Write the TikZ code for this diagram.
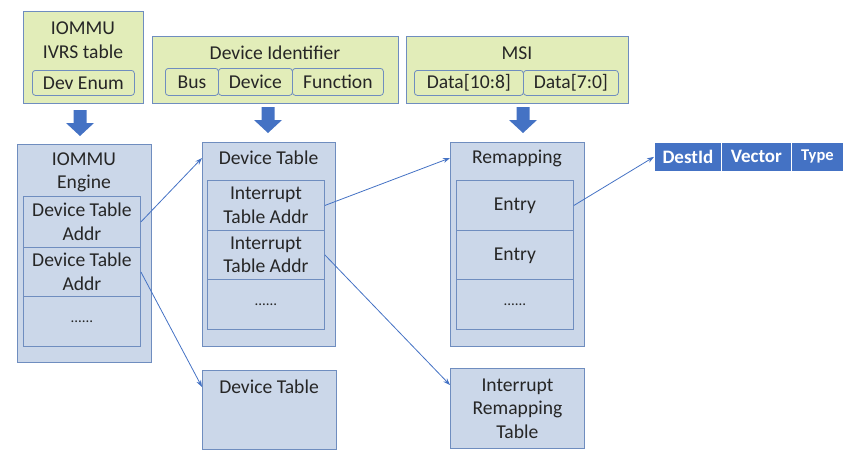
\documentclass[tikz,border=0pt]{standalone}
\usepackage{fontspec}
\setmainfont{Carlito}
\usepackage{xcolor}
\usepackage{tikz}
\usetikzlibrary{calc, positioning, arrows.meta}

\definecolor{boxyellow}{HTML}{E2EDB9}
\definecolor{boxblue}{HTML}{CBD7E9}
\definecolor{edgeblue}{HTML}{6F8DBF}
\definecolor{arrowblue}{HTML}{4472C4}
\definecolor{textgray}{HTML}{262626}

\begin{document}
\begin{tikzpicture}[x=1pt, y=-1pt, >={Stealth[length=7pt, width=5pt]},
    every node/.style={font=\fontsize{19.6}{23.5}\selectfont, text=textgray, inner sep=0pt, align=center},
    ybox/.style={draw=edgeblue, fill=boxyellow, line width=0.9pt, anchor=north west},
    bbox/.style={draw=edgeblue, fill=boxblue, line width=0.9pt, anchor=north west},
    field/.style={draw=edgeblue, fill=boxyellow, rounded corners=3pt, line width=0.8pt, anchor=north west},
    cell/.style={draw=edgeblue, fill=boxblue, line width=0.9pt, anchor=north west, minimum width=117pt},
    destfield/.style={draw=white, fill=arrowblue, line width=0.8pt, anchor=north west, minimum height=29pt, text=white, font=\fontsize{19}{20}\selectfont\bfseries},
    link/.style={->, draw=arrowblue, line width=0.8pt},
    dots/.style={font=\fontsize{15}{16}\selectfont}
]

    % =================================================================
    % 0. KHUNG ẢNH
    % =================================================================
    \useasboundingbox (0,0) rectangle (852,461);

    % =================================================================
    % 1. HÀNG TRÊN: IVRS, DEVICE IDENTIFIER, MSI
    % =================================================================
    \node[ybox, minimum width=120pt, minimum height=92pt] (ivrs) at (23,11) {};
    \node (ivrsTitle) at (83,40) {IOMMU\\IVRS table};
    \node[field, minimum width=102pt, minimum height=25pt] (devenum) at (32,70) {Dev Enum};

    \node[ybox, minimum width=246pt, minimum height=67pt] (devid) at (152,36) {};
    \node (devidTitle) at (275,53) {Device Identifier};
    \node[field, minimum width=53pt, minimum height=27pt] (bus) at (165,68) {Bus};
    \node[field, minimum width=74pt, minimum height=27pt] (device) at (218,68) {Device};
    \node[field, minimum width=91pt, minimum height=27pt] (function) at (292,68) {Function};

    \node[ybox, minimum width=222pt, minimum height=67pt] (msi) at (406,36) {};
    \node (msiTitle) at (517,53) {MSI};
    \node[field, minimum width=109pt, minimum height=25pt] (datahi) at (414,70) {Data[10:8]};
    \node[field, minimum width=95pt, minimum height=25pt] (datalo) at (523,70) {Data[7:0]};

    % Mũi tên khối đi xuống
    \foreach \ax/\ay in {80/110, 268/107, 523/107} {
        \fill[arrowblue] (\ax-6.5,\ay) -- (\ax+6.5,\ay) -- (\ax+6.5,\ay+13) -- (\ax+14,\ay+13)
            -- (\ax,\ay+26) -- (\ax-14,\ay+13) -- (\ax-6.5,\ay+13) -- cycle;
    }

    % =================================================================
    % 2. HÀNG GIỮA: IOMMU ENGINE, DEVICE TABLE, REMAPPING
    % =================================================================
    \node[bbox, minimum width=134pt, minimum height=218pt] (engine) at (17,144) {};
    \node (engineTitle) at (84,172.5) {IOMMU\\Engine};
    \node[cell, minimum height=51pt] (eng1) at (23,196) {Device Table\\Addr};
    \node[cell, minimum height=49pt] (eng2) at (23,247) {Device Table\\Addr};
    \node[cell, minimum height=50pt, dots] (eng3) at (23,296) {......};

    \node[bbox, minimum width=133pt, minimum height=204pt] (dt) at (202,142) {};
    \node (dtTitle) at (268.5,158) {Device Table};
    \node[cell, minimum height=50pt] (dt1) at (207,180) {Interrupt\\Table Addr};
    \node[cell, minimum height=49pt] (dt2) at (207,230) {Interrupt\\Table Addr};
    \node[cell, minimum height=50pt, dots] (dt3) at (207,279) {......};

    \node[bbox, minimum width=134pt, minimum height=204pt] (remap) at (450,142) {};
    \node (remapTitle) at (517,158) {Remapping};
    \node[cell, minimum height=50pt, text depth=2pt] (ent1) at (456,180) {Entry};
    \node[cell, minimum height=49pt, text depth=2pt] (ent2) at (456,230) {Entry};
    \node[cell, minimum height=50pt, dots] (ent3) at (456,279) {......};

    % Các trường của một entry
    \node[destfield, minimum width=67pt] (destid) at (654,142) {DestId};
    \node[destfield, minimum width=70pt] (vector) at (721,142) {Vector};
    \node[destfield, minimum width=52pt, font=\fontsize{16.5}{18}\selectfont\bfseries] (type) at (791,142) {Type};

    % =================================================================
    % 3. HÀNG DƯỚI
    % =================================================================
    \node[bbox, minimum width=134pt, minimum height=79pt] (dtb) at (202,370) {};
    \node (dtbTitle) at (269,387) {Device Table};

    \node[bbox, minimum width=134pt, minimum height=80pt] (irt) at (450,368) {Interrupt\\Remapping\\Table};

    % =================================================================
    % 4. MŨI TÊN LIÊN KẾT
    % =================================================================
    \draw[link] (eng1.east) -- (dtTitle -| dt.west);
    \draw[link] (eng2.east) -- (dtbTitle -| dtb.west);
    \draw[link] (dt1.east) -- (remapTitle -| remap.west);
    \draw[link] (dt2.east) -- ([yshift=-17pt]irt.north west);
    \draw[link] (ent1.east) -- (destid.west);

\end{tikzpicture}
\end{document}
